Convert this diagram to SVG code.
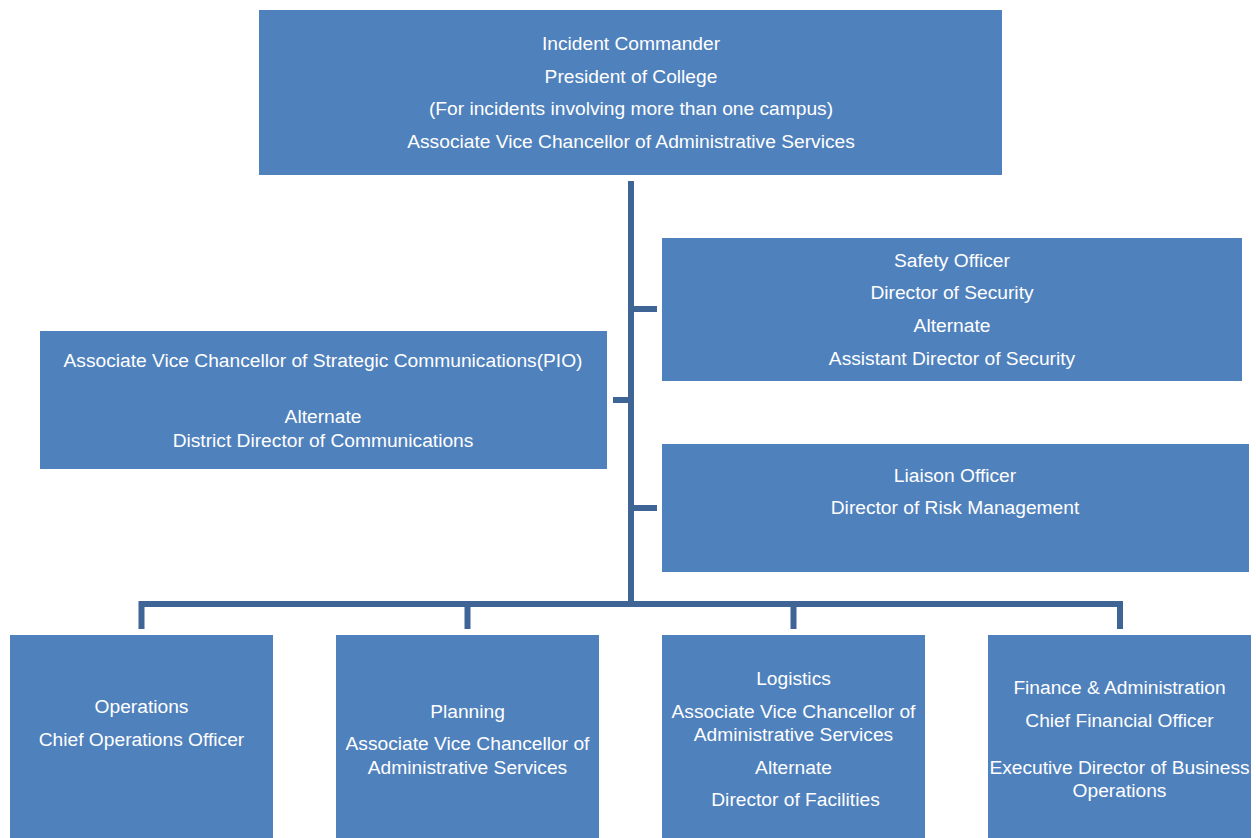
<svg xmlns="http://www.w3.org/2000/svg" width="1256" height="838" viewBox="0 0 1256 838">
<style>
.box{fill:#4F81BD}
.t{font-family:"Liberation Sans",Arial,sans-serif;font-size:19.2px;fill:#FFFFFF;text-anchor:middle}
.c{stroke:#3E6596;stroke-width:6;fill:none}
</style>
<rect width="1256" height="838" fill="#FFFFFF"/>
<g id="connectors">
<line class="c" x1="631" y1="181" x2="631" y2="604"/>
<line class="c" x1="631" y1="309" x2="657" y2="309"/>
<line class="c" x1="613" y1="400" x2="631" y2="400"/>
<line class="c" x1="631" y1="508" x2="657" y2="508"/>
<polyline class="c" points="141.5,629 141.5,604 1120,604 1120,629"/>
<line class="c" x1="467.5" y1="604" x2="467.5" y2="629"/>
<line class="c" x1="793.5" y1="604" x2="793.5" y2="629"/>
</g>
<g id="commander">
<rect class="box" x="259" y="10" width="743" height="165"/>
<text class="t" x="631" y="50">Incident Commander</text>
<text class="t" x="631" y="83">President of College</text>
<text class="t" x="631" y="115">(For incidents involving more than one campus)</text>
<text class="t" x="631" y="148">Associate Vice Chancellor of Administrative Services</text>
</g>
<g id="safety">
<rect class="box" x="662" y="238" width="580" height="143"/>
<text class="t" x="952" y="267">Safety Officer</text>
<text class="t" x="952" y="299">Director of Security</text>
<text class="t" x="952" y="332">Alternate</text>
<text class="t" x="952" y="365">Assistant Director of Security</text>
</g>
<g id="pio">
<rect class="box" x="40" y="331" width="567" height="138"/>
<text class="t" x="323" y="367">Associate Vice Chancellor of Strategic Communications(PIO)</text>
<text class="t" x="323" y="423">Alternate</text>
<text class="t" x="323" y="447">District Director of Communications</text>
</g>
<g id="liaison">
<rect class="box" x="662" y="444" width="587" height="128"/>
<text class="t" x="955" y="482">Liaison Officer</text>
<text class="t" x="955" y="514">Director of Risk Management</text>
</g>
<g id="operations">
<rect class="box" x="10" y="635" width="263" height="203"/>
<text class="t" x="141.5" y="713">Operations</text>
<text class="t" x="141.5" y="746">Chief Operations Officer</text>
</g>
<g id="planning">
<rect class="box" x="336" y="635" width="263" height="203"/>
<text class="t" x="467.5" y="718">Planning</text>
<text class="t" x="467.5" y="750">Associate Vice Chancellor of</text>
<text class="t" x="467.5" y="774">Administrative Services</text>
</g>
<g id="logistics">
<rect class="box" x="662" y="635" width="263" height="203"/>
<text class="t" x="793.5" y="685">Logistics</text>
<text class="t" x="793.5" y="718">Associate Vice Chancellor of</text>
<text class="t" x="793.5" y="741">Administrative Services</text>
<text class="t" x="793.5" y="774">Alternate</text>
<text class="t" x="795.5" y="806">Director of Facilities</text>
</g>
<g id="finance">
<rect class="box" x="988" y="635" width="263" height="203"/>
<text class="t" x="1119.5" y="694">Finance &amp; Administration</text>
<text class="t" x="1119.5" y="727">Chief Financial Officer</text>
<text class="t" x="1119.5" y="774">Executive Director of Business</text>
<text class="t" x="1119.5" y="797">Operations</text>
</g>
</svg>
